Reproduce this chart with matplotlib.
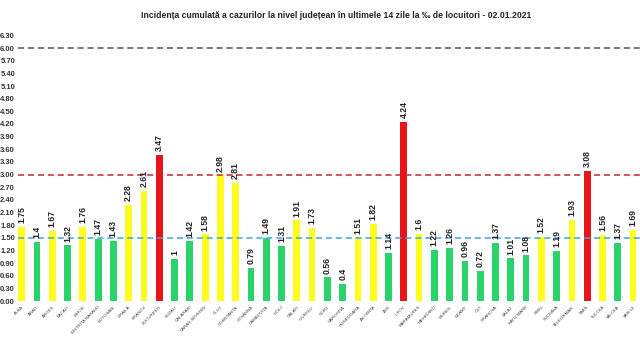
import matplotlib
matplotlib.use("Agg")
import matplotlib.pyplot as plt
import numpy as np

counties = ["ALBA", "ARAD", "ARGES", "BACAU", "BIHOR", "BISTRITA NASAUD", "BOTOSANI",
            "BRAILA", "BRASOV", "BUCURESTI", "BUZAU", "CALARASI", "CARAS-SEVERIN", "CLUJ",
            "CONSTANTA", "COVASNA", "DAMBOVITA", "DOLJ", "GALATI", "GIURGIU", "GORJ",
            "HARGHITA", "HUNEDOARA", "IALOMITA", "IASI", "ILFOV", "MARAMURES", "MEHEDINTI",
            "MURES", "NEAMT", "OLT", "PRAHOVA", "SALAJ", "SATU MARE", "SIBIU", "SUCEAVA",
            "TELEORMAN", "TIMIS", "TULCEA", "VALCEA", "VASLUI"]
values = [1.75, 1.4, 1.67, 1.32, 1.76, 1.47, 1.43, 2.28, 2.61, 3.47, 1, 1.42, 1.58, 2.98,
          2.81, 0.79, 1.49, 1.31, 1.91, 1.73, 0.56, 0.4, 1.51, 1.82, 1.14, 4.24, 1.6, 1.22,
          1.26, 0.96, 0.72, 1.37, 1.01, 1.08, 1.52, 1.19, 1.93, 3.08, 1.56, 1.37, 1.69]
value_labels = ["1.75", "1.4", "1.67", "1.32", "1.76", "1.47", "1.43", "2.28", "2.61", "3.47",
                "1", "1.42", "1.58", "2.98", "2.81", "0.79", "1.49", "1.31", "1.91", "1.73",
                "0.56", "0.4", "1.51", "1.82", "1.14", "4.24", "1.6", "1.22", "1.26", "0.96",
                "0.72", "1.37", "1.01", "1.08", "1.52", "1.19", "1.93", "3.08", "1.56", "1.37",
                "1.69"]
thresholds = [1.5, 3.0, 6.0]
yticks = [round(0.3 * i, 2) for i in range(22)]
title = "Incidența cumulată a cazurilor la nivel județean în ultimele 14 zile la ‰ de locuitori - 02.01.2021"

GREEN = "#2bd36b"
YELLOW = "#ffff1f"
RED = "#e8141a"

def color_for(v):
    if v > 3.0:
        return RED
    if v > 1.5:
        return YELLOW
    return GREEN

fig = plt.figure(figsize=(6.4, 3.59), dpi=100)
W, H = 640, 359
left_px, right_px = 17.9, 640
bottom_px, top_px = 301, 27
ax = fig.add_axes([left_px / W, (H - bottom_px) / H, (right_px - left_px) / W,
                   (bottom_px - top_px) / H])

x = np.arange(len(counties))
colors = [color_for(v) for v in values]
ax.bar(x, values, width=0.44, color=colors, zorder=2)

narrow = ["Liberation Sans Narrow", "Liberation Sans", "DejaVu Sans"]
for xi, v, lab in zip(x, values, value_labels):
    ax.text(xi, v + 0.09, lab, rotation=90, ha="center", va="bottom",
            fontsize=6.2, fontweight="bold", family=narrow, color="#222222", zorder=4)

ax.axhline(thresholds[0], color="#3fa6d8", lw=1.1, ls=(0, (4, 2.5)), zorder=3)
ax.axhline(thresholds[1], color="#c0282d", lw=1.1, ls=(0, (4, 2.5)), zorder=3)
ax.axhline(thresholds[2], color="#555555", lw=1.1, ls=(0, (4, 2.5)), zorder=3)

ax.set_xlim(-0.25, 40.45)
ax.set_ylim(0, 6.5)
ax.set_yticks(yticks)
ax.set_yticklabels([f"{t:.2f}" for t in yticks], fontsize=5.5, fontweight="bold",
                   family=narrow, color="#333333")
ax.set_xticks(x)
ax.set_xticklabels(counties, rotation=45, ha="right", va="top", fontsize=3.2,
                   family=narrow, color="#444444", rotation_mode="anchor")
ax.tick_params(axis="both", length=0, pad=2)
ax.tick_params(axis="x", pad=3)
for s in ax.spines.values():
    s.set_visible(False)

fig.text(336 / W, 1 - 15 / H, title, ha="center", va="center", fontsize=6.2,
         fontweight="bold", family=narrow, color="#222222")

fig.savefig("out.png", dpi=100)
